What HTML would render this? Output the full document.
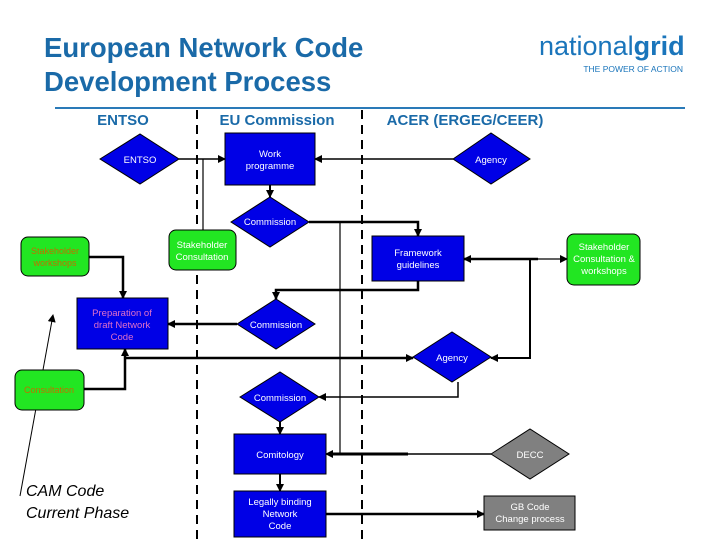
<!DOCTYPE html>
<html><head><meta charset="utf-8"><style>
body{margin:0;background:#fff;}
svg{display:block;font-family:"Liberation Sans",Arial,sans-serif;}
</style></head><body>
<svg width="720" height="540" viewBox="0 0 720 540" xmlns="http://www.w3.org/2000/svg">
<defs>
<marker id="a" markerWidth="8" markerHeight="8" refX="7" refY="4" orient="auto" markerUnits="userSpaceOnUse"><path d="M0,0 L8,4 L0,8 z" fill="#000"/></marker>
</defs>
<!-- title -->
<text x="44" y="57" font-size="27.5" font-weight="bold" fill="#1a6aa8">European Network Code</text>
<text x="44" y="91" font-size="27.5" font-weight="bold" fill="#1a6aa8">Development Process</text>
<text x="539" y="55" font-size="27" fill="#1a75bb" letter-spacing="-0.6" textLength="145">national<tspan font-weight="bold">grid</tspan></text>
<text x="683" y="72" font-size="8.5" fill="#1a75bb" text-anchor="end">THE POWER OF ACTION</text>
<line x1="55" y1="108" x2="685" y2="108" stroke="#2a7ab8" stroke-width="2"/>
<!-- headers -->
<g font-size="15" font-weight="bold" fill="#1a6aa8" text-anchor="middle">
<text x="123" y="125">ENTSO</text>
<text x="277" y="125">EU Commission</text>
<text x="465" y="125">ACER (ERGEG/CEER)</text>
</g>
<!-- dashed lanes -->
<line x1="197" y1="110" x2="197" y2="540" stroke="#000" stroke-width="2" stroke-dasharray="9,6"/>
<line x1="362" y1="110" x2="362" y2="540" stroke="#000" stroke-width="2" stroke-dasharray="9,6"/>

<!-- connectors -->
<g fill="none" stroke="#000">
<line x1="179" y1="159" x2="225" y2="159" stroke-width="1.5" marker-end="url(#a)"/>
<line x1="203" y1="159" x2="203" y2="230" stroke-width="1.2"/>
<line x1="453" y1="159" x2="315" y2="159" stroke-width="1.5" marker-end="url(#a)"/>
<line x1="270" y1="185" x2="270" y2="197" stroke-width="2" marker-end="url(#a)"/>
<polyline points="309,222 418,222 418,236" stroke-width="2.5" marker-end="url(#a)"/>
<line x1="340" y1="222" x2="340" y2="454" stroke-width="1.2"/>
<polyline points="418,281 418,290 276,290 276,299" stroke-width="2.5" marker-end="url(#a)"/>
<line x1="237" y1="324" x2="168" y2="324" stroke-width="2.5" marker-end="url(#a)"/>
<polyline points="89,257 123,257 123,298" stroke-width="2.5" marker-end="url(#a)"/>
<line x1="538" y1="259" x2="464" y2="259" stroke-width="2.5" marker-end="url(#a)"/>
<line x1="530" y1="259" x2="567" y2="259" stroke-width="1.2" marker-end="url(#a)"/>
<polyline points="530,259 530,358 491,358" stroke-width="2" marker-end="url(#a)"/>
<polyline points="84,389 125,389 125,349" stroke-width="2.5" marker-end="url(#a)"/>
<line x1="125" y1="358" x2="413" y2="358" stroke-width="2.5" marker-end="url(#a)"/>
<polyline points="458,382 458,397 319,397" stroke-width="1.5" marker-end="url(#a)"/>
<line x1="280" y1="422" x2="280" y2="434" stroke-width="2" marker-end="url(#a)"/>
<line x1="280" y1="474" x2="280" y2="491" stroke-width="2" marker-end="url(#a)"/>
<line x1="491" y1="454" x2="326" y2="454" stroke-width="1.5" marker-end="url(#a)"/>
<line x1="408" y1="454" x2="330" y2="454" stroke-width="3"/>
<line x1="326" y1="514" x2="484" y2="514" stroke-width="2.5" marker-end="url(#a)"/>
<line x1="20" y1="496" x2="53" y2="315" stroke-width="1" marker-end="url(#a)"/>
</g>

<!-- shapes -->
<g stroke="#000" stroke-width="1">
<polygon points="100,159 140,134 179,159 140,184" fill="#0000e6"/>
<rect x="225" y="133" width="90" height="52" fill="#0000e6"/>
<polygon points="453,159 491,133 530,159 491,184" fill="#0000e6"/>
<polygon points="231,222 270,197 309,222 270,247" fill="#0000e6"/>
<rect x="169" y="230" width="67" height="40" rx="7" fill="#22e622"/>
<rect x="21" y="237" width="68" height="39" rx="7" fill="#22e622"/>
<rect x="372" y="236" width="92" height="45" fill="#0000e6"/>
<rect x="567" y="234" width="73" height="51" rx="7" fill="#22e622"/>
<rect x="77" y="298" width="91" height="51" fill="#0000e6"/>
<polygon points="237,324 276,299 315,324 276,349" fill="#0000e6"/>
<polygon points="413,357 452,332 491,357 452,382" fill="#0000e6"/>
<rect x="15" y="370" width="69" height="40" rx="7" fill="#22e622"/>
<polygon points="240,397 280,372 319,397 280,422" fill="#0000e6"/>
<rect x="234" y="434" width="92" height="40" fill="#0000e6"/>
<rect x="234" y="491" width="92" height="46" fill="#0000e6"/>
<polygon points="491,454 530,429 569,454 530,479" fill="#808080"/>
<rect x="484" y="496" width="91" height="34" fill="#808080"/>
</g>

<!-- labels -->
<g font-size="9.5" fill="#fff" text-anchor="middle">
<text x="140" y="163">ENTSO</text>
<text x="270" y="157">Work</text><text x="270" y="169">programme</text>
<text x="491" y="163">Agency</text>
<text x="270" y="225">Commission</text>
<text x="202" y="248">Stakeholder</text><text x="202" y="260">Consultation</text>
<text x="418" y="256">Framework</text><text x="418" y="268">guidelines</text>
<text x="604" y="250">Stakeholder</text><text x="604" y="262">Consultation &amp;</text><text x="604" y="274">workshops</text>
<text x="276" y="328">Commission</text>
<text x="452" y="361">Agency</text>
<text x="280" y="401">Commission</text>
<text x="280" y="458">Comitology</text>
<text x="280" y="505">Legally binding</text><text x="280" y="517">Network</text><text x="280" y="529">Code</text>
<text x="530" y="458">DECC</text>
<text x="530" y="510">GB Code</text><text x="530" y="522">Change process</text>
</g>
<g font-size="9.5" fill="#e070c8" text-anchor="middle">
<text x="122" y="316">Preparation of</text><text x="122" y="328">draft Network</text><text x="122" y="340">Code</text>
</g>
<g font-size="9" fill="#c07000" text-anchor="middle">
<text x="55" y="254">Stakeholder</text><text x="55" y="266">workshops</text>
<text x="49" y="393">Consultation</text>
</g>
<g font-size="16" font-style="italic" fill="#000">
<text x="26" y="496">CAM Code</text>
<text x="26" y="518">Current Phase</text>
</g>
</svg>
</body></html>
